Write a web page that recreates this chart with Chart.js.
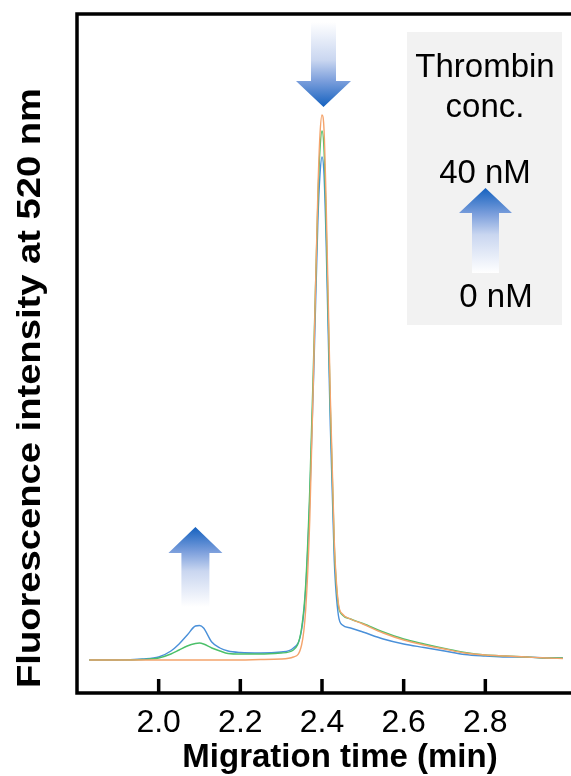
<!DOCTYPE html>
<html><head><meta charset="utf-8">
<script src="https://cdn.jsdelivr.net/npm/chart.js@4.4.1/dist/chart.umd.min.js"></script>
<style>html,body{margin:0;padding:0;background:#fff;}#wrap{position:relative;width:571px;height:776px;}</style>
</head><body><div id="wrap"><canvas id="c" width="571" height="776"></canvas></div>
<script>
// Migration time (min)
const times = [1.83,1.90,1.96,2.00,2.03,2.05,2.07,2.09,2.10,2.11,2.13,2.15,2.17,2.20,2.25,2.30,2.33,2.35,2.36,2.37,2.38,2.39,2.395,2.40,2.405,2.41,2.42,2.43,2.44,2.45,2.47,2.50,2.55,2.60,2.65,2.70,2.75,2.80,2.85,2.90,2.95,2.99];
// Fluorescence intensity (arbitrary units)
const thrombin0nM  = [33,33,33,33,33,33,33,33,33,33,33,33,33,33,33.5,34,36,48,83,173,333,503,558,578,563,493,303,153,90,79,74,69,60,53,48,44,40,38,37,36,35,34.5];
const thrombinMid  = [33,33,33.5,35,39,43,47,49.5,50,49,45,42,39.5,39,39,40,43,65,108,203,343,493,543,562,543,473,293,148,88,78,74,69.5,61,54,49,44.5,40.5,38,37,36,35,35];
const thrombin40nM = [33,33,34,36,42,49,58,67,67.5,65,51,45,42,40.5,40,41,45,63,103,193,323,473,518,536,518,453,273,133,78,68,65,61,54,49,45.5,42,38.5,37,36,36,35,35];
const xTickValues = [2.0,2.2,2.4,2.6,2.8];
const xTitle = 'Migration time (min)';
const yTitle = 'Fluorescence intensity at 520 nm';
const legendTitle = ['Thrombin','conc.'];
const concHigh = '40 nM';
const concLow = '0 nM';

const FONT = '"Liberation Sans", Arial, sans-serif';
const toXY = arr => arr.map((v,i)=>({x:times[i], y:v}));

function arrow(ctx, cx, tailY, baseY, tipY, shaftHalf, headHalf){
  const g = ctx.createLinearGradient(0, tailY, 0, tipY);
  g.addColorStop(0, '#ffffff');
  g.addColorStop(0.45, '#c9d6f0');
  g.addColorStop(0.69, '#7c9fdc');
  g.addColorStop(1, '#1461bf');
  ctx.save();
  ctx.fillStyle = g;
  ctx.beginPath();
  ctx.moveTo(cx-shaftHalf, tailY);
  ctx.lineTo(cx+shaftHalf, tailY);
  ctx.lineTo(cx+shaftHalf, baseY);
  ctx.lineTo(cx+headHalf, baseY);
  ctx.lineTo(cx, tipY);
  ctx.lineTo(cx-headHalf, baseY);
  ctx.lineTo(cx-shaftHalf, baseY);
  ctx.closePath();
  ctx.fill();
  ctx.restore();
}

const deco = {
  id:'deco',
  beforeDatasetsDraw(chart){
    const ctx = chart.ctx;
    ctx.save();
    ctx.fillStyle = '#f2f2f2';
    ctx.fillRect(407, 32, 155, 293);
    ctx.restore();
  },
  afterDraw(chart){
    const {ctx, chartArea:a, scales:{x}} = chart;
    ctx.save();
    ctx.strokeStyle = '#000';
    ctx.lineWidth = 3.5;
    ctx.lineCap = 'butt';
    ctx.beginPath();
    ctx.moveTo(a.left, a.top); ctx.lineTo(chart.width, a.top);
    ctx.moveTo(a.left, a.top - 1.75); ctx.lineTo(a.left, a.bottom + 1.75);
    ctx.moveTo(a.left - 1.75, a.bottom); ctx.lineTo(chart.width, a.bottom);
    xTickValues.forEach(v => {
      const px = x.getPixelForValue(v);
      ctx.moveTo(px, a.bottom); ctx.lineTo(px, a.bottom - 14);
    });
    ctx.stroke();
    // arrows
    arrow(ctx, x.getPixelForValue(2.4)+1.5, 22, 81, 107, 12.5, 27.5);
    arrow(ctx, x.getPixelForValue(2.09), 607, 553, 527, 14, 27);
    arrow(ctx, 485.5, 273, 213, 188, 13.5, 26.5);
    // legend text
    ctx.fillStyle = '#000';
    ctx.textAlign = 'center';
    ctx.textBaseline = 'alphabetic';
    ctx.font = '33px ' + FONT;
    ctx.fillText(legendTitle[0], 485, 77);
    ctx.fillText(legendTitle[1], 485, 117);
    ctx.fillText(concHigh, 485, 183);
    ctx.fillText(concLow, 496, 307);
    // axis titles
    ctx.font = 'bold 33px ' + FONT;
    ctx.fillText(xTitle, 340, 767);
    ctx.save();
    ctx.translate(40, 388);
    ctx.rotate(-Math.PI/2);
    const w = ctx.measureText(yTitle).width;
    ctx.scale(600 / w, 1);
    ctx.fillText(yTitle, 0, 0);
    ctx.restore();
    ctx.restore();
  }
};

new Chart(document.getElementById('c'), {
  type:'line',
  data:{datasets:[
    {label:'0 nM', data:toXY(thrombin0nM), borderColor:'#f4a46c'},
    {label:'intermediate', data:toXY(thrombinMid), borderColor:'#4cc06a'},
    {label:'40 nM', data:toXY(thrombin40nM), borderColor:'#4a90d9'}
  ].map(d => Object.assign(d, {borderWidth:1.4, pointRadius:0, fill:false, cubicInterpolationMode:'monotone'}))},
  options:{
    responsive:false, animation:false,
    layout:{padding:{left:77, right:4, top:14, bottom:0}},
    plugins:{legend:{display:false}, tooltip:{enabled:false}},
    scales:{
      x:{type:'linear', min:1.8, max:3.0,
        afterBuildTicks: s => { s.ticks = xTickValues.map(v => ({value:v})); },
        afterFit: s => { s.height = 83; },
        ticks:{font:{size:32, family:FONT}, color:'#000', padding:3, maxRotation:0, autoSkip:false, callback: v => Number(v).toFixed(1)},
        grid:{display:false}, border:{display:false}},
      y:{display:false, min:0, max:679}
    }
  },
  plugins:[deco]
});
</script></body></html>
